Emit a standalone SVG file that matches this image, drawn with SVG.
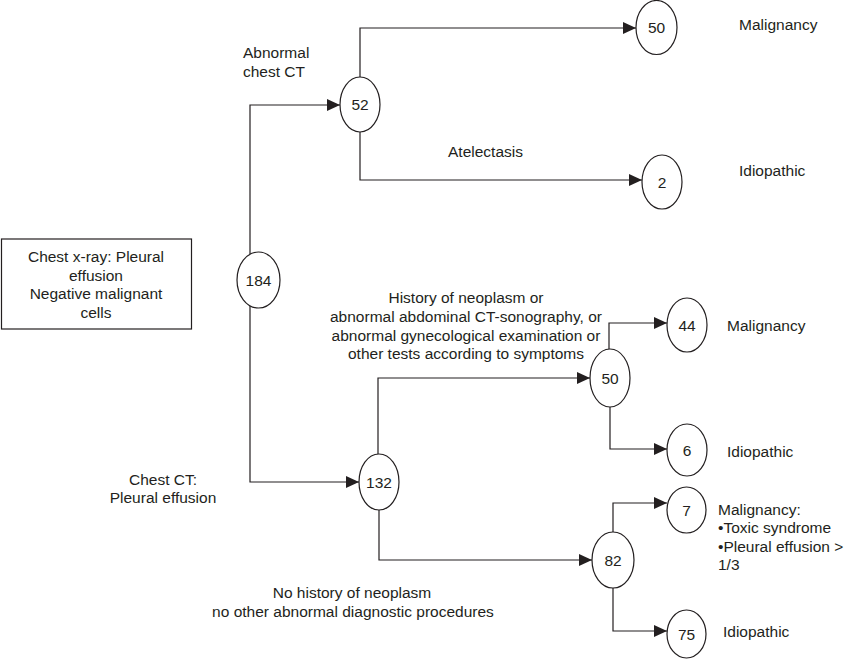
<svg xmlns="http://www.w3.org/2000/svg" width="850" height="659" viewBox="0 0 850 659">
<style>
  text { font-family: "Liberation Sans", Arial, sans-serif; font-size: 15.5px; fill: #231f20; }
  .c { text-anchor: middle; }
  .node ellipse, .node rect { fill: #ffffff; stroke: #231f20; stroke-width: 1.2; }
  .conn path { fill: none; stroke: #231f20; stroke-width: 1.2; }
</style>
<defs>
  <marker id="arr" markerUnits="userSpaceOnUse" markerWidth="13" markerHeight="12" refX="13" refY="6" orient="auto">
    <path d="M0,0 L13,6 L0,12 z" fill="#231f20"/>
  </marker>
</defs>
<rect width="850" height="659" fill="#ffffff"/>

<g id="connectors" class="conn">
  <path d="M250,254 V105 H340" marker-end="url(#arr)"/>
  <path d="M360,77 V28 H636" marker-end="url(#arr)"/>
  <path d="M360,132 V180 H642" marker-end="url(#arr)"/>
  <path d="M250,306 V482 H359" marker-end="url(#arr)"/>
  <path d="M378,454 V378 H590" marker-end="url(#arr)"/>
  <path d="M609,349 V323 H667" marker-end="url(#arr)"/>
  <path d="M610,407 V449 H667" marker-end="url(#arr)"/>
  <path d="M379,510 V560 H592" marker-end="url(#arr)"/>
  <path d="M613,532 V503 H667" marker-end="url(#arr)"/>
  <path d="M613,588 V631 H667" marker-end="url(#arr)"/>
</g>

<g id="start" class="node">
  <rect x="1.5" y="239" width="190" height="90"/>
  <text class="c" x="96" y="262">Chest x-ray: Pleural</text>
  <text class="c" x="96" y="281">effusion</text>
  <text class="c" x="96" y="299">Negative malignant</text>
  <text class="c" x="96" y="318">cells</text>
</g>

<g id="n184" class="node">
  <ellipse cx="258.5" cy="280" rx="21.5" ry="28"/>
  <text class="c" x="258.5" y="285.5">184</text>
</g>
<g id="n52" class="node">
  <ellipse cx="360" cy="104.5" rx="20" ry="27.5"/>
  <text class="c" x="360" y="110">52</text>
</g>
<g id="n50a" class="node">
  <ellipse cx="656.5" cy="27.5" rx="20.5" ry="27"/>
  <text class="c" x="656.5" y="33">50</text>
</g>
<g id="n2" class="node">
  <ellipse cx="662" cy="182" rx="20" ry="27"/>
  <text class="c" x="662" y="187.5">2</text>
</g>
<g id="n132" class="node">
  <ellipse cx="379" cy="482" rx="20" ry="28"/>
  <text class="c" x="379" y="487.5">132</text>
</g>
<g id="n50b" class="node">
  <ellipse cx="610" cy="378" rx="20" ry="29"/>
  <text class="c" x="610" y="383.5">50</text>
</g>
<g id="n44" class="node">
  <ellipse cx="687" cy="325" rx="20" ry="27"/>
  <text class="c" x="687" y="330.5">44</text>
</g>
<g id="n6" class="node">
  <ellipse cx="687" cy="450" rx="20" ry="26"/>
  <text class="c" x="687" y="455.5">6</text>
</g>
<g id="n82" class="node">
  <ellipse cx="613" cy="560" rx="21" ry="28"/>
  <text class="c" x="613" y="565.5">82</text>
</g>
<g id="n7" class="node">
  <ellipse cx="686.5" cy="510" rx="19.5" ry="23"/>
  <text class="c" x="686.5" y="515.5">7</text>
</g>
<g id="n75" class="node">
  <ellipse cx="686.5" cy="634" rx="19.5" ry="24"/>
  <text class="c" x="686.5" y="639.5">75</text>
</g>

<g id="labels">
  <text x="243" y="58">Abnormal</text>
  <text x="243" y="77">chest CT</text>
  <text x="448" y="157">Atelectasis</text>
  <text class="c" x="163" y="485">Chest CT:</text>
  <text class="c" x="163" y="503">Pleural effusion</text>
  <text class="c" x="466" y="303">History of neoplasm or</text>
  <text class="c" x="466" y="322">abnormal abdominal CT-sonography, or</text>
  <text class="c" x="466" y="341">abnormal gynecological examination or</text>
  <text class="c" x="466" y="359">other tests according to symptoms</text>
  <text class="c" x="352" y="598">No history of neoplasm</text>
  <text class="c" x="353" y="617">no other abnormal diagnostic procedures</text>
  <text x="739" y="30">Malignancy</text>
  <text x="739" y="176">Idiopathic</text>
  <text x="727" y="331">Malignancy</text>
  <text x="727" y="457">Idiopathic</text>
  <text x="718" y="515">Malignancy:</text>
  <text x="718" y="533">•Toxic syndrome</text>
  <text x="718" y="552">•Pleural effusion &gt;</text>
  <text x="718" y="570">1/3</text>
  <text x="723" y="637">Idiopathic</text>
</g>
</svg>
